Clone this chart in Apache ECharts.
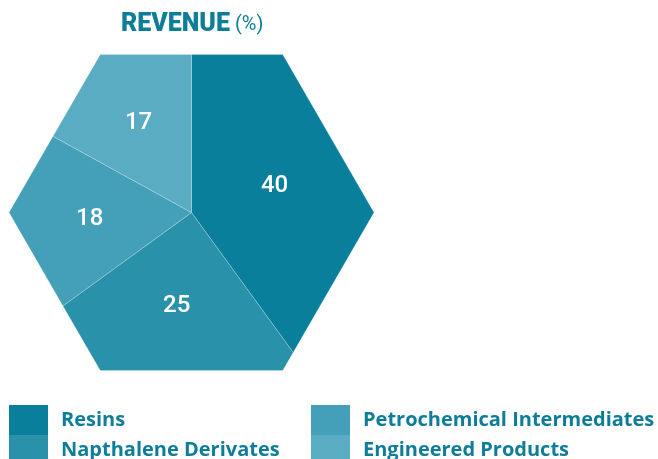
<!DOCTYPE html>
<html>
<head>
<meta charset="utf-8">
<script src="https://cdn.jsdelivr.net/npm/echarts@6/dist/echarts.min.js"></script>
<style>
  html, body { margin: 0; padding: 0; background: #ffffff; }
  #chart { width: 658px; height: 459px; }
</style>
</head>
<body>
<div id="chart"></div>
<script>
// Revenue split by segment, in percent
const categories = ['Resins', 'Napthalene Derivates', 'Petrochemical Intermediates', 'Engineered Products'];
const shares = [40, 25, 18, 17];
const colors = ['#0a7f9c', '#2a91ab', '#43a0b8', '#5aacc2'];
const legendLeftColumn = ['Resins', 'Napthalene Derivates'];
const legendRightColumn = ['Petrochemical Intermediates', 'Engineered Products'];

// Hexagonal pie layout
const CX = 191.5, CY = 212.5, R = 182.5;
const APOTHEM = R * Math.sin(Math.PI / 3);
const TEAL = '#0e7d9a';

const rad = d => d * Math.PI / 180;
function pt(deg, r) {
  return [CX + r * Math.cos(rad(deg)), CY - r * Math.sin(rad(deg))];
}
// distance from centre to the hexagon edge along a direction
function edgeDist(deg) {
  const k = Math.floor(deg / 60);
  const normal = 60 * k + 30;
  return APOTHEM / Math.cos(rad(deg - normal));
}
// slice polygon between two angles (a0 > a1, drawn clockwise)
function slicePolygon(a0, a1) {
  const pts = [[CX, CY], pt(a0, edgeDist(a0))];
  for (let m = Math.ceil(a0 / 60) - 1; m * 60 > a1; m--) {
    if (m * 60 < a0) pts.push(pt(m * 60, R));
  }
  pts.push(pt(a1, edgeDist(a1)));
  return pts;
}
function centroid(pts) {
  let a = 0, x = 0, y = 0;
  for (let i = 0; i < pts.length; i++) {
    const p = pts[i], q = pts[(i + 1) % pts.length];
    const c = p[0] * q[1] - q[0] * p[1];
    a += c; x += (p[0] + q[0]) * c; y += (p[1] + q[1]) * c;
  }
  a /= 2;
  return [x / (6 * a), y / (6 * a)];
}

const total = shares.reduce((s, v) => s + v, 0);

function makeRender(idx) {
  return function (params, api) {
    const before = shares.slice(0, idx).reduce((s, v) => s + v, 0);
    const value = api.value(0);
    const a0 = 90 - before / total * 360;
    const a1 = a0 - value / total * 360;
    const pts = slicePolygon(a0, a1);
    // value label on the mid-angle, between the slice centroid and ~56% of the way to the edge
    const mid = (a0 + a1) / 2;
    const c = centroid(pts);
    const cr = Math.hypot(c[0] - CX, c[1] - CY);
    const lp = pt(mid, (cr + 0.56 * edgeDist(mid)) / 2);
    return {
      type: 'group',
      children: [
        {
          type: 'polygon',
          shape: { points: pts },
          style: { fill: api.visual('color'), stroke: 'rgba(255,255,255,0.35)', lineWidth: 0.6 }
        },
        {
          type: 'text',
          z2: 10,
          style: {
            x: lp[0], y: lp[1],
            text: String(value),
            fill: '#ffffff',
            font: '500 24px Roboto',
            align: 'center',
            verticalAlign: 'middle'
          }
        }
      ]
    };
  };
}

const series = categories.map((name, i) => ({
  type: 'custom',
  name: name,
  coordinateSystem: 'none',
  itemStyle: { color: colors[i] },
  renderItem: makeRender(i),
  data: [[shares[i]]],
  animation: false
}));

const legendBase = {
  orient: 'vertical',
  top: 405,
  height: 80,
  itemWidth: 39,
  itemHeight: 30,
  itemGap: 0,
  icon: 'rect',
  selectedMode: false,
  padding: 0,
  textStyle: {
    color: TEAL,
    fontFamily: 'Open Sans',
    fontWeight: 'bold',
    fontSize: 20,
    padding: [4, 0, 0, 8]
  }
};

const chart = echarts.init(document.getElementById('chart'));
chart.setOption({
  backgroundColor: '#ffffff',
  animation: false,
  title: {
    text: '{a|REVENUE}{b| (%)}',
    left: 121,
    top: 12,
    padding: 0,
    textStyle: {
      rich: {
        a: { fontFamily: 'Roboto', fontWeight: 900, fontSize: 25, color: TEAL },
        b: { fontFamily: 'Roboto', fontWeight: 'normal', fontSize: 20, color: TEAL }
      }
    }
  },
  legend: [
    Object.assign({}, legendBase, { left: 9, data: legendLeftColumn }),
    Object.assign({}, legendBase, { left: 311, data: legendRightColumn })
  ],
  series: series
});
</script>
</body>
</html>
